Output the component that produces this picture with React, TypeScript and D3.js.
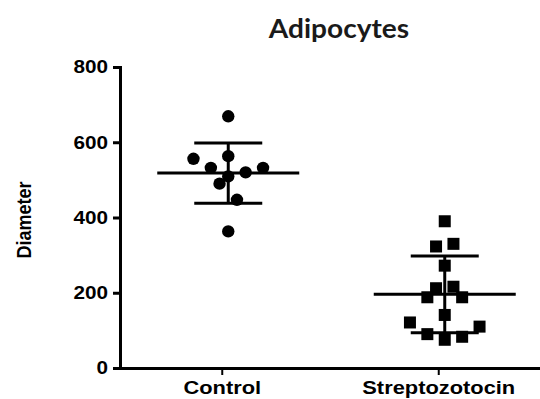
import { useEffect, useRef } from 'react';
import * as d3 from 'd3';

// categories and tick labels
const groups = ['Control', 'Streptozotocin'];
const yTicks = [0, 200, 400, 600, 800];

// Control (circles): value + horizontal jitter slot
const controlValues = [669, 556, 563, 532, 532, 520, 509, 490, 447, 363];
const controlSlots = [0, -4, 0, -2, 4, 2, 0, -1, 1, 0];
const controlMean = 518;
const controlSd = 80;

// Streptozotocin (squares)
const streptoValues = [390, 323, 330, 272, 212, 216, 188, 188, 141, 121, 110, 90, 83, 75];
const streptoSlots = [0, -1, 1, 0, -1, 1, -2, 2, 0, -4, 4, -2, 2, 0];
const streptoMean = 196;
const streptoSd = 102;

const App = () => {
  const svgRef = useRef<SVGSVGElement>(null);

  useEffect(() => {
    const svg = d3.select(svgRef.current);
    svg.selectAll('*').remove();

    const font = '"Liberation Sans", Arial, sans-serif';
    const stretch = 1.15;

    const y = d3.scaleLinear().domain([0, 800]).range([368, 67]);
    const x = d3.scalePoint().domain(groups).range([120, 540]).padding(0.47);

    const shift = 6.5; // markers sit a bit right of the tick
    const slotW = 8.7;
    const meanHalf = 71;
    const capHalf = 34;

    // Title
    svg
      .append('text')
      .attr('transform', `translate(339,38) scale(1.08,1)`)
      .attr('text-anchor', 'middle')
      .style('font-family', 'Lato, "Open Sans", sans-serif')
      .style('font-weight', 'bold')
      .style('font-size', '26px')
      .style('fill', '#1a1a1a')
      .text('Adipocytes');

    // Y axis
    const yAxis = svg
      .append('g')
      .attr('transform', 'translate(120,0)')
      .call(d3.axisLeft(y).tickValues(yTicks).tickSize(7).tickPadding(5));
    yAxis.selectAll('path, line').attr('stroke', '#000').attr('stroke-width', 3);
    yAxis
      .selectAll('text')
      .attr('x', -12 / stretch)
      .attr('transform', `scale(${stretch},1)`)
      .style('font-family', font)
      .style('font-weight', 'bold')
      .style('font-size', '18px')
      .style('fill', '#000');

    // X axis
    const xAxis = svg
      .append('g')
      .attr('transform', 'translate(0,368)')
      .call(d3.axisBottom(x).tickSize(7).tickSizeOuter(0).tickPadding(6));
    xAxis.selectAll('path').attr('stroke', '#000').attr('stroke-width', 3);
    xAxis.selectAll('line').attr('stroke', '#000').attr('stroke-width', 2);
    xAxis
      .selectAll('text')
      .attr('transform', `scale(${stretch},1)`)
      .style('font-family', font)
      .style('font-weight', 'bold')
      .style('font-size', '19px')
      .style('fill', '#000');

    // Y label
    svg
      .append('text')
      .attr('transform', 'translate(31,220) rotate(-90) scale(1,1.15)')
      .attr('text-anchor', 'middle')
      .style('font-family', font)
      .style('font-weight', 'bold')
      .style('font-size', '18px')
      .style('fill', '#000')
      .text('Diameter');

    const drawStats = (g: string, mean: number, sd: number) => {
      const cx = (x(g) as number) + shift;
      const s = svg.append('g').attr('stroke', '#000').attr('stroke-width', 3);
      s.append('line').attr('x1', cx).attr('x2', cx).attr('y1', y(mean + sd)).attr('y2', y(mean - sd));
      s.append('line').attr('x1', cx - meanHalf).attr('x2', cx + meanHalf).attr('y1', y(mean)).attr('y2', y(mean));
      [mean + sd, mean - sd].forEach(v => {
        s.append('line').attr('x1', cx - capHalf).attr('x2', cx + capHalf).attr('y1', y(v)).attr('y2', y(v));
      });
      return cx;
    };

    const c0 = drawStats('Control', controlMean, controlSd);
    const c1 = drawStats('Streptozotocin', streptoMean, streptoSd);

    svg
      .append('g')
      .selectAll('circle')
      .data(controlValues)
      .join('circle')
      .attr('cx', (d, i) => c0 + controlSlots[i] * slotW)
      .attr('cy', d => y(d))
      .attr('r', 6.2)
      .attr('fill', '#000');

    const sq = 12;
    svg
      .append('g')
      .selectAll('rect')
      .data(streptoValues)
      .join('rect')
      .attr('x', (d, i) => c1 + streptoSlots[i] * slotW - sq / 2)
      .attr('y', d => y(d) - sq / 2)
      .attr('width', sq)
      .attr('height', sq)
      .attr('fill', '#000');
  }, []);

  return (
    <svg
      ref={svgRef}
      width={540}
      height={399}
      style={{ position: 'absolute', left: 0, top: 0, background: '#fff' }}
    />
  );
};

export default App;
